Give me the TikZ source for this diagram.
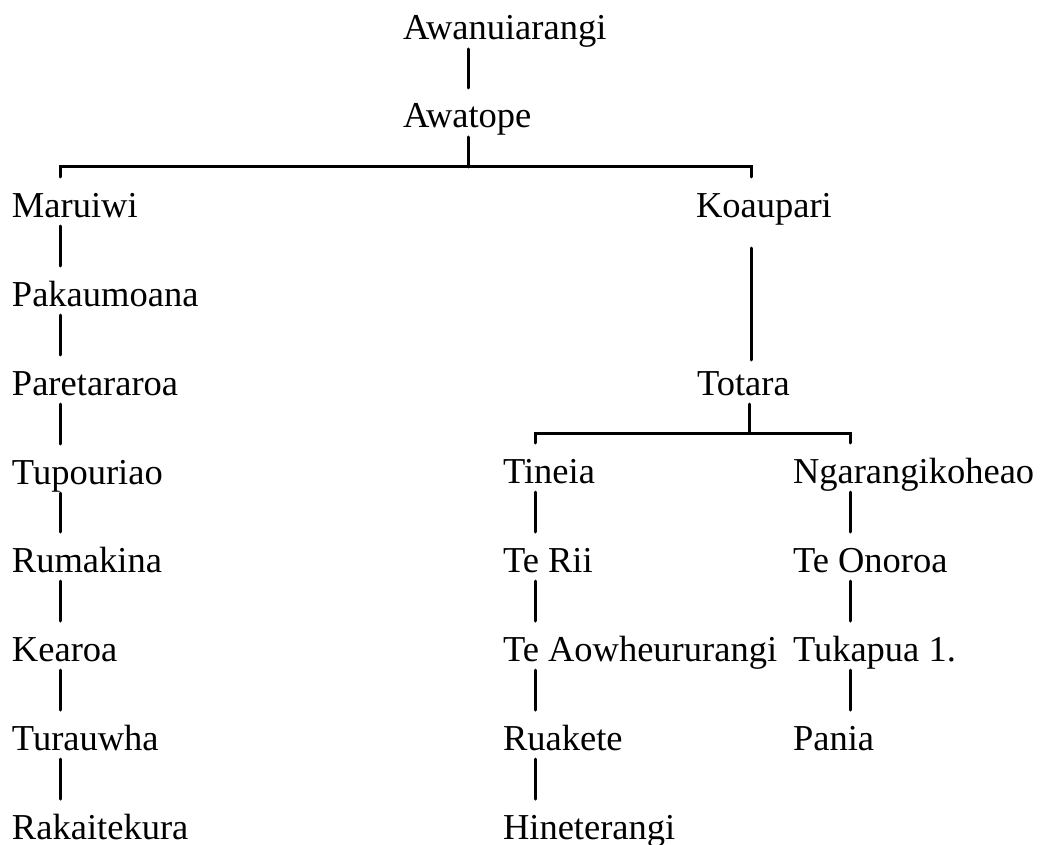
\documentclass[tikz,border=0pt]{standalone}
\usepackage{fontspec}
\setmainfont{Liberation Serif}
\begin{document}
\begin{tikzpicture}[x=1pt,y=-1pt,
  person/.style={anchor=base west,inner sep=0pt,outer sep=0pt,text height=40pt,text depth=9pt,font=\fontsize{36.5}{40}\selectfont},
  link/.style={line width=3pt,line cap=round}]
\useasboundingbox (0,0) rectangle (1043,845);
% nodes
\node[person] (awa) at (403,40) {Awanuiarangi};
\node[person] (awt) at (403,128) {Awatope};
\node[person] (mar) at (12,217) {Maruiwi};
\node[person] (pak) at (12,306) {Pakaumoana};
\node[person] (par) at (12,395) {Paretararoa};
\node[person] (tup) at (12,484) {Tupouriao};
\node[person] (rum) at (12,572) {Rumakina};
\node[person] (kea) at (12,661) {Kearoa};
\node[person] (tur) at (12,750) {Turauwha};
\node[person] (rak) at (12,839) {Rakaitekura};
\node[person] (koa) at (696,217) {Koaupari};
\node[person] (tot) at (697,395) {Totara};
\node[person] (tin) at (503,483) {Tineia};
\node[person] (ter) at (503,572) {Te Rii};
\node[person] (tea) at (503,661) {Te Aowheururangi};
\node[person] (rua) at (503,750) {Ruakete};
\node[person] (hin) at (503,839) {Hineterangi};
\node[person] (nga) at (793,483) {Ngarangikoheao};
\node[person] (teo) at (793,572) {Te Onoroa};
\node[person] (tuk) at (793,661) {Tukapua 1.};
\node[person] (pan) at (793,750) {Pania};
% column coordinates
\coordinate (cA) at (468,0);
\coordinate (cL) at (60,0);
\coordinate (cK) at (751,0);
\coordinate (cM) at (535,0);
\coordinate (cR) at (850,0);
\coordinate (bar1) at (468,167);
\coordinate (bar2) at (749,433);
% connectors
\draw[link] (awa.south -| cA) -- (awt.north -| cA);
\draw[link] (awt.south -| cA) -- (bar1);
\draw[link] (mar.north -| cL) -- (cL |- bar1) -- (cK |- bar1) -- (koa.north -| cK);
\draw[link] (mar.south -| cL) -- (pak.north -| cL);
\draw[link] (pak.south -| cL) -- (par.north -| cL);
\draw[link] (par.south -| cL) -- (tup.north -| cL);
\draw[link] (tup.south -| cL) -- (rum.north -| cL);
\draw[link] (rum.south -| cL) -- (kea.north -| cL);
\draw[link] (kea.south -| cL) -- (tur.north -| cL);
\draw[link] (tur.south -| cL) -- (rak.north -| cL);
\draw[link] ([yshift=-22pt]koa.south -| cK) -- ([yshift=-5pt]tot.north -| cK);
\draw[link] (tot.south -| bar2) -- (bar2);
\draw[link] (tin.north -| cM) -- (cM |- bar2) -- (cR |- bar2) -- (nga.north -| cR);
\draw[link] (tin.south -| cM) -- (ter.north -| cM);
\draw[link] (ter.south -| cM) -- (tea.north -| cM);
\draw[link] (tea.south -| cM) -- (rua.north -| cM);
\draw[link] (rua.south -| cM) -- (hin.north -| cM);
\draw[link] (nga.south -| cR) -- (teo.north -| cR);
\draw[link] (teo.south -| cR) -- (tuk.north -| cR);
\draw[link] (tuk.south -| cR) -- (pan.north -| cR);
\end{tikzpicture}
\end{document}
